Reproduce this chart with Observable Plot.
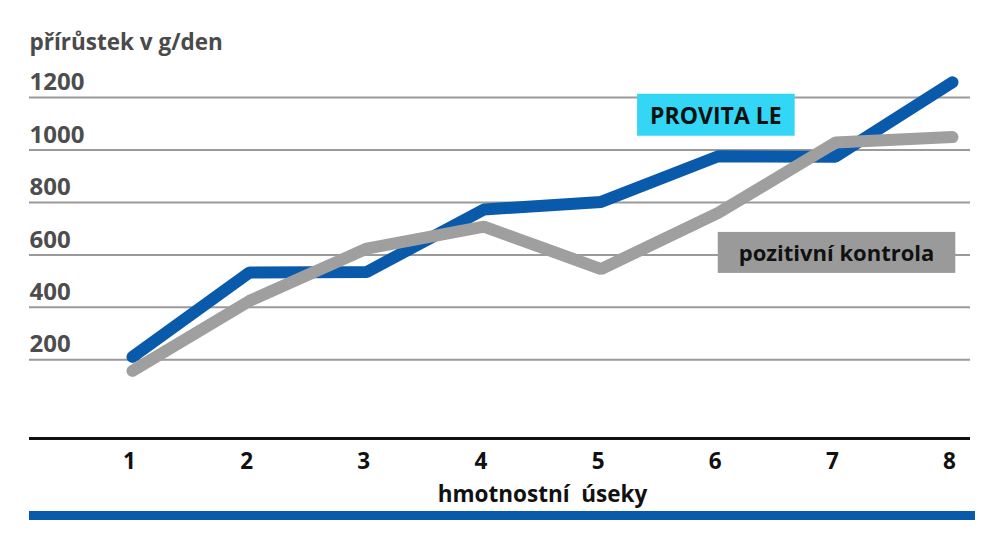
<!DOCTYPE html>
<html><head><meta charset="utf-8">
<script src="https://cdn.jsdelivr.net/npm/d3@7"></script>
<script src="https://cdn.jsdelivr.net/npm/@observablehq/plot@0.6"></script>
<style>
html,body{margin:0;padding:0;background:#fff;}
#chart{position:relative;width:1000px;height:550px;}
#chart svg{position:absolute;left:0;top:0;}
#bar{position:absolute;left:29px;top:511px;width:946px;height:9px;background:#0a5aab;}
</style></head><body><div id="chart"><div id="bar"></div></div>
<script>
// ---- data ----
const segments = [1, 2, 3, 4, 5, 6, 7, 8];
const provita = [211, 533, 535, 773, 802, 976, 974, 1258];
const kontrola = [158, 425, 624, 708, 546, 760, 1028, 1049];
const yTicks = [200, 400, 600, 800, 1000, 1200];
const seriesNames = ["PROVITA LE", "pozitivní kontrola"];
const yTitle = "přírůstek v g/den";
const xTitle = "hmotnostní  úseky";
const labelSegment = [5.98, 7.01];
const labelValue = [1128, 602];

const rows = (vals, name) => segments.map((s, i) => ({segment: s, value: vals[i], series: name}));
const rowsA = rows(provita, seriesNames[0]);
const rowsB = rows(kontrola, seriesNames[1]);
const labels = seriesNames.map((n, i) => ({name: n, segment: labelSegment[i], value: labelValue[i]}));

const BLUE = "#0a5aab", GREY = "#a09fa0";
const font = "'Open Sans', 'Noto Sans', sans-serif";

const svg = Plot.plot({
  width: 1000, height: 550,
  marginLeft: 29, marginRight: 30, marginTop: 97, marginBottom: 112,
  style: {fontFamily: font, background: "transparent", overflow: "visible"},
  x: {domain: d3.extent(segments), range: [132, 952], axis: null},
  y: {domain: [-100, 1200], axis: null},
  marks: [
    Plot.ruleY(yTicks, {stroke: "#9a9a9a", strokeWidth: 2}),
    Plot.ruleY([-100], {stroke: "#111", strokeWidth: 3}),
    Plot.text(yTicks, {y: d => d, text: d => String(d), frameAnchor: "left", textAnchor: "start", lineAnchor: "middle", dy: -15, fontSize: 24, fontWeight: "bold", fill: "#4d4d4d"}),
    Plot.text([yTitle], {frameAnchor: "top-left", textAnchor: "start", lineAnchor: "middle", dy: -55, fontSize: 22.5, fontWeight: "bold", fill: "#4a4a4a"}),
    Plot.text(segments, {x: d => d, text: d => String(d), frameAnchor: "bottom", lineAnchor: "middle", dx: -3, dy: 23, fontSize: 22.5, fontWeight: "bold", fill: "#111"}),
    Plot.text([xTitle], {x: d3.mean(d3.extent(segments)), frameAnchor: "bottom", lineAnchor: "middle", dy: 56, fontSize: 22.5, fontWeight: "bold", fill: "#111"}),
    Plot.line(rowsA, {x: "segment", y: "value", stroke: BLUE, strokeWidth: 12, strokeLinecap: "round", strokeLinejoin: "miter"}),
    Plot.line(rowsB, {x: "segment", y: "value", stroke: GREY, strokeWidth: 12, strokeLinecap: "round", strokeLinejoin: "miter"}),
    Plot.text(labels, {x: "segment", y: "value", text: "name", lineAnchor: "middle", fontWeight: "bold", fontSize: (d, i) => i === 0 ? 23 : 22, fill: "#111"})
  ]
});
document.getElementById("chart").appendChild(svg);

// boxes behind the series labels
const boxStyle = {"PROVITA LE": {fill: "#33d6f5", padX: 13, h: 42}, "pozitivní kontrola": {fill: "#9b9a9b", padX: 21, h: 41}};
svg.querySelectorAll("text").forEach(t => {
  const st = boxStyle[t.textContent];
  if (!st) return;
  const b = t.getBBox();
  const cy = b.y + b.height / 2;
  const r = document.createElementNS("http://www.w3.org/2000/svg", "rect");
  r.setAttribute("x", b.x - st.padX);
  r.setAttribute("y", cy - st.h / 2);
  r.setAttribute("width", b.width + 2 * st.padX);
  r.setAttribute("height", st.h);
  r.setAttribute("fill", st.fill);
  const ctm = t.getAttribute("transform");
  if (ctm) r.setAttribute("transform", ctm);
  t.parentNode.insertBefore(r, t);
});
</script></body></html>
